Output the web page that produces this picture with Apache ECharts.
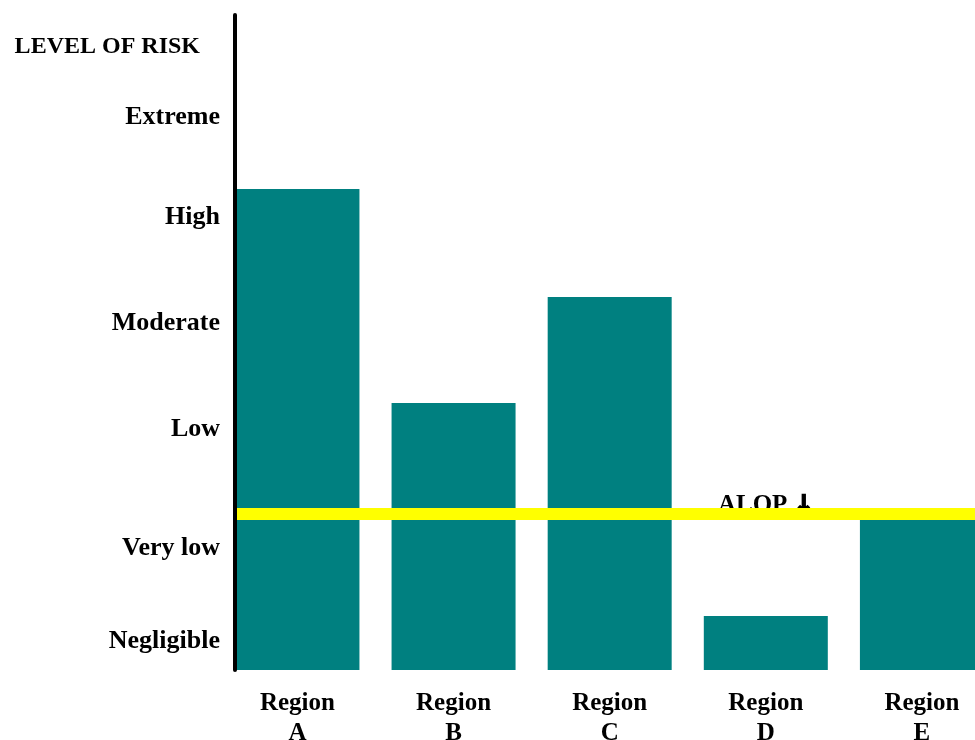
<!DOCTYPE html>
<html>
<head>
<meta charset="utf-8">
<script src="https://cdn.jsdelivr.net/npm/echarts@6/dist/echarts.min.js"></script>
<style>
html,body{margin:0;padding:0;background:#fff;width:100%;height:100%;overflow:hidden;}
#main{width:100%;height:100%;}
</style>
</head>
<body>
<div id="main"></div>
<script>
const categories = ['Region\nA', 'Region\nB', 'Region\nC', 'Region\nD', 'Region\nE'];
const categoryPositions = [0, 1, 2, 3, 4];
const riskValues = [4.81, 2.67, 3.73, 0.54, 1.55];
const riskLevels = ['LEVEL OF RISK', 'Extreme', 'High', 'Moderate', 'Low', 'Very low', 'Negligible'];
const riskLevelPositions = [6.23, 5.53, 4.53, 3.47, 2.41, 1.22, 0.29];
const alopValue = 1.56;
const alopText = 'ALOP ';
const alopArrow = '\u2193';
const alopPosition = [3, 1.64];

const FONT = '"Liberation Serif", "Times New Roman", serif';
const chart = echarts.init(document.getElementById('main'));

function nearestIndex(arr, v) {
  let best = -1, bd = 1e9;
  arr.forEach((p, i) => { const d = Math.abs(p - v); if (d < bd) { bd = d; best = i; } });
  return bd < 0.01 ? best : -1;
}

chart.setOption({
  animation: false,
  backgroundColor: '#ffffff',
  grid: { left: 235, right: 0, top: 15, bottom: 70, containLabel: false, outerBoundsMode: 'none' },
  xAxis: {
    type: 'value',
    min: -0.4,
    max: 4.34,
    splitLine: { show: false },
    axisLine: { show: false },
    axisTick: { show: false },
    axisLabel: {
      customValues: categoryPositions,
      formatter: (v) => { const i = nearestIndex(categoryPositions, v); return i >= 0 ? categories[i] : ''; },
      fontFamily: FONT,
      fontWeight: 'bold',
      fontSize: 25,
      lineHeight: 29.5,
      color: '#000',
      margin: 19
    }
  },
  yAxis: {
    type: 'value',
    min: 0,
    max: 6.55,
    z: 10,
    splitLine: { show: false },
    axisLine: { show: true, onZero: false, lineStyle: { color: '#000', width: 4 } },
    axisTick: { show: false },
    axisLabel: {
      customValues: riskLevelPositions,
      formatter: (v) => {
        const i = nearestIndex(riskLevelPositions, v);
        if (i < 0) return '';
        return i === 0 ? '{h|' + riskLevels[i] + '}' : riskLevels[i];
      },
      fontFamily: FONT,
      fontWeight: 'bold',
      fontSize: 26,
      color: '#000',
      margin: 15,
      rich: {
        h: { fontFamily: FONT, fontWeight: 'bold', fontSize: 24, color: '#000', padding: [0, 20, 0, 0] }
      }
    }
  },
  series: [
    {
      type: 'scatter',
      z: 1,
      symbolSize: 0,
      itemStyle: { color: '#000', opacity: 1 },
      data: [alopPosition],
      label: {
        show: true,
        position: 'inside',
        opacity: 1,
        formatter: '{t|' + alopText + '}{a|' + alopArrow + '}',
        color: '#000',
        textBorderWidth: 0,
        rich: {
          t: { fontFamily: FONT, fontWeight: 'bold', fontSize: 25, color: '#000' },
          a: { fontFamily: '"DejaVu Sans"', fontWeight: 'bold', fontSize: 24, color: '#000', textBorderColor: '#000', textBorderWidth: 1.5 }
        }
      },
      silent: true
    },
    {
      type: 'bar',
      z: 2,
      barWidth: 124,
      itemStyle: { color: '#008080' },
      data: categoryPositions.map((p, i) => [p, riskValues[i]]),
      markLine: {
        silent: true,
        symbol: ['none', 'none'],
        label: { show: false },
        lineStyle: { color: '#ffff00', width: 12, type: 'solid' },
        data: [{ yAxis: alopValue }]
      }
    }
  ]
});
</script>
</body>
</html>
